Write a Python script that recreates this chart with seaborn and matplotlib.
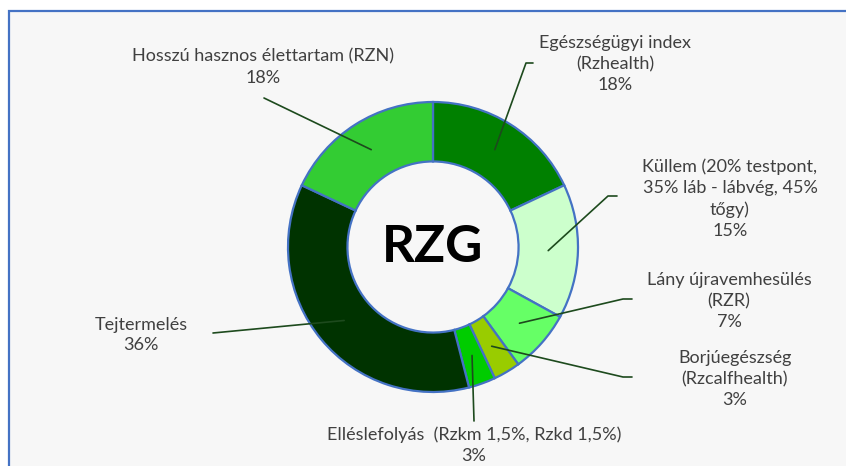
import matplotlib.pyplot as plt
import numpy as np
import seaborn as sns
from matplotlib.patches import Rectangle

# data
labels = [
    "Egészségügyi index\n(Rzhealth)",
    "Küllem (20% testpont,\n35% láb - lábvég, 45%\ntőgy)",
    "Lány újravemhesülés\n(RZR)",
    "Borjúegészség\n(Rzcalfhealth)",
    "Elléslefolyás  (Rzkm 1,5%, Rzkd 1,5%)",
    "Tejtermelés",
    "Hosszú hasznos élettartam (RZN)",
]
shares = [18, 15, 7, 3, 3, 36, 18]
colors = ["#008000", "#ccffcc", "#66ff66", "#99cc00", "#00cc00", "#003300", "#33cc33"]

# layout (pixels from top-left)
W, H = 846, 466
cx, cy, R = 433, 247, 145
label_pos = [(615, 64), (730, 199), (729, 301), (735, 379), (474, 445), (141, 335), (263, 67)]
# leader line end points (elbow, end)
leader_pts = [
    [(526, 63), (533, 63)],
    [(608, 196), (617, 196)],
    [(623, 299), (632, 299)],
    [(623, 377), (632, 377)],
    [(474, 421)],
    [(213, 333)],
    [(264, 98)],
]

sns.set_theme(style="white")
plt.rcParams["font.family"] = ["Lato", "DejaVu Sans"]

fig = plt.figure(figsize=(W / 100, H / 100), dpi=100)
fig.patch.set_facecolor("white")
ax = fig.add_axes([0, 0, 1, 1])
ax.set_facecolor("none")

ax.add_patch(Rectangle((9, -20), W + 20, H - 11 + 20, facecolor="#f7f7f7",
                       edgecolor="#4472c4", linewidth=1.6, zorder=0))

ax.pie(shares, colors=colors, startangle=90, counterclock=False, radius=R,
       center=(cx, H - cy), frame=False,
       wedgeprops=dict(width=R * 0.41, edgecolor="#4472c4", linewidth=1.6))

ax.text(cx, H - cy, "RZG", ha="center", va="center", fontsize=37,
        fontweight="bold", color="black")

r_mid = R - R * 0.41 / 2
cum = np.cumsum([0] + shares[:-1])
for lab, val, start, pos, pts in zip(labels, shares, cum, label_pos, leader_pts):
    theta = np.deg2rad(90 - 3.6 * (start + val / 2))
    x0 = cx + r_mid * np.cos(theta)
    y0 = H - cy + r_mid * np.sin(theta)
    xs = [x0] + [p[0] for p in pts]
    ys = [y0] + [H - p[1] for p in pts]
    ax.plot(xs, ys, color="#1d4a1d", linewidth=1.2, zorder=5)
    ax.text(pos[0], H - pos[1], f"{lab}\n{val}%", ha="center", va="center",
            fontsize=13, color="#404040", linespacing=1.38)

ax.set_xlim(0, W)
ax.set_ylim(0, H)
ax.set_aspect("equal")
ax.axis("off")

fig.savefig("out.png", dpi=100, facecolor=fig.get_facecolor())
